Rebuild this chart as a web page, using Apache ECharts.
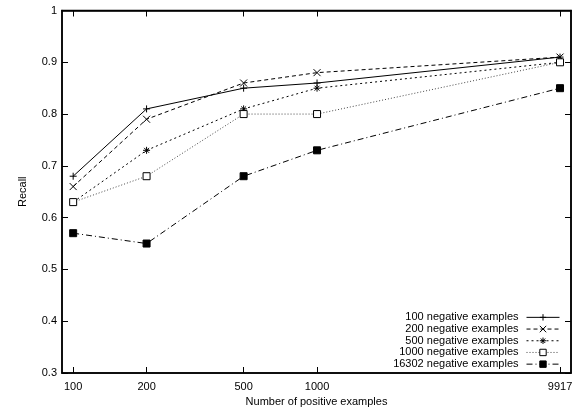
<!DOCTYPE html>
<html>
<head>
<meta charset="utf-8">
<script src="https://cdn.jsdelivr.net/npm/echarts@6/dist/echarts.min.js"></script>
<style>
html, body { margin: 0; padding: 0; background: #fff; }
#main { width: 575px; height: 408px; }
</style>
</head>
<body>
<div id="main"></div>
<script>
// x positions (number of positive examples), log scaled axis
var positives = [100, 200, 500, 1000, 9917];
var yTicks = [0.3, 0.4, 0.5, 0.6, 0.7, 0.8, 0.9, 1];

var names = [
    '100 negative examples',
    '200 negative examples',
    '500 negative examples',
    '1000 negative examples',
    '16302 negative examples'
];
var neg100 = [0.68, 0.81, 0.85, 0.86, 0.91];
var neg200 = [0.66, 0.79, 0.86, 0.88, 0.91];
var neg500 = [0.63, 0.73, 0.81, 0.85, 0.90];
var neg1000 = [0.63, 0.68, 0.80, 0.80, 0.90];
var neg16302 = [0.57, 0.55, 0.68, 0.73, 0.85];

var font = 'Liberation Sans';
var myChart = echarts.init(document.getElementById('main'));

function pairs(vals) {
    var out = [];
    for (var i = 0; i < vals.length; i++) {
        out.push([positives[i], vals[i]]);
    }
    return out;
}

function line(name, vals, dash, symbol, size, fill, lineColor) {
    return {
        name: name,
        type: 'line',
        data: pairs(vals),
        symbol: symbol,
        symbolSize: size,
        showAllSymbol: true,
        animation: false,
        itemStyle: {color: fill, borderColor: '#000', borderWidth: 1},
        lineStyle: {color: lineColor || '#000', width: 1, type: dash}
    };
}

var option = {
    animation: false,
    textStyle: {fontFamily: font},
    grid: {left: 62, right: 4, top: 10.5, bottom: 35, show: true, borderColor: '#000', borderWidth: 1.5,
        outerBoundsMode: 'none'},
    legend: {
        orient: 'vertical',
        right: 15,
        bottom: 38,
        padding: 0,
        align: 'right',
        itemWidth: 33,
        itemHeight: 8,
        itemGap: 0,
        lineStyle: {width: 1},
        itemStyle: {borderWidth: 1},
        textStyle: {fontSize: 11, color: '#000', fontFamily: font, lineHeight: 11.7, padding: [0, 3, 0, 0]},
        data: names
    },
    xAxis: [{
        type: 'log',
        min: 90,
        max: 11000,
        name: 'Number of positive examples',
        nameLocation: 'middle',
        nameGap: 21,
        nameTextStyle: {fontSize: 11, color: '#000', fontFamily: font},
        axisLine: {lineStyle: {color: '#000', width: 1.5}},
        axisTick: {inside: true, length: 6, customValues: positives, lineStyle: {color: '#000'}},
        axisLabel: {customValues: positives, fontSize: 11, color: '#000', margin: 8, fontFamily: font,
            formatter: function (v) { return String(v); }},
        splitLine: {show: false},
        minorTick: {show: false}
    }, {
        type: 'log',
        min: 90,
        max: 11000,
        position: 'top',
        axisLine: {lineStyle: {color: '#000', width: 1.5}},
        axisTick: {inside: true, length: 6, customValues: positives, lineStyle: {color: '#000'}},
        axisLabel: {show: false},
        splitLine: {show: false}
    }],
    yAxis: [{
        type: 'value',
        min: 0.3,
        max: 1,
        interval: 0.1,
        name: 'Recall',
        nameLocation: 'middle',
        nameGap: 34,
        nameTextStyle: {fontSize: 11, color: '#000', fontFamily: font},
        axisLine: {show: true, lineStyle: {color: '#000', width: 1.5}},
        axisTick: {show: true, inside: true, length: 6, lineStyle: {color: '#000'}},
        axisLabel: {fontSize: 11, color: '#000', margin: 5, fontFamily: font,
            formatter: function (v) { return String(Math.round(v * 10) / 10); }},
        splitLine: {show: false}
    }, {
        type: 'value',
        min: 0.3,
        max: 1,
        interval: 0.1,
        position: 'right',
        axisLine: {show: true, lineStyle: {color: '#000', width: 1.5}},
        axisTick: {show: true, inside: true, length: 6, lineStyle: {color: '#000'}},
        axisLabel: {show: false},
        splitLine: {show: false}
    }],
    series: [
        line(names[0], neg100, 'solid', 'path://M0,5L10,5M5,0L5,10', 7, 'none'),
        line(names[1], neg200, [4, 3], 'path://M0,0L10,10M10,0L0,10', 7, 'none'),
        line(names[2], neg500, [2, 3], 'path://M0,5L10,5M5,0L5,10M1.5,1.5L8.5,8.5M8.5,1.5L1.5,8.5', 7, 'none'),
        line(names[3], neg1000, [1, 2], 'rect', 7, '#fff', '#444'),
        line(names[4], neg16302, [6, 3, 1, 3], 'rect', 7, '#000')
    ]
};
myChart.setOption(option);
</script>
</body>
</html>
